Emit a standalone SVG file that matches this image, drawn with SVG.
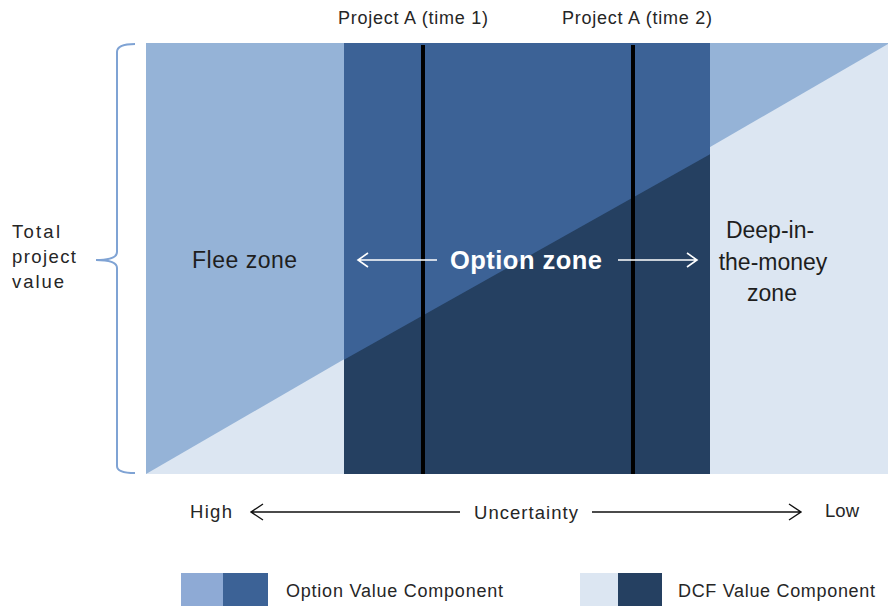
<svg xmlns="http://www.w3.org/2000/svg" width="888" height="606" viewBox="0 0 888 606">
<style>
.t{font-family:"Liberation Sans",Arial,sans-serif;fill:#262626}
.z{font-family:"Liberation Sans",Arial,sans-serif;fill:#1e1e1e;font-size:23px}
.wa{stroke:#ffffff;stroke-width:1.6;fill:none}
.ba{stroke:#111111;stroke-width:1.4;fill:none}
</style>
<rect width="888" height="606" fill="#ffffff"/>
<g id="chart">
<rect x="146" y="43" width="742" height="431" fill="#DCE6F2"/>
<polygon points="146,43 888,43 888,44 146,474" fill="#95B3D7"/>
<rect x="344" y="43" width="366" height="431" fill="#254061"/>
<polygon points="344,43 710,43 710,154.3 344,359.8" fill="#3C6296"/>
<rect x="421" y="45" width="4" height="429" fill="#000000"/>
<rect x="631" y="45" width="4" height="429" fill="#000000"/>
</g>
<g id="brace">
<path d="M135,44 Q117,44 117,52 L117,252 Q117,260 96,260 Q117,260 117,268 L117,466 Q117,473 135,473" fill="none" stroke="#7FA3D4" stroke-width="2"/>
</g>
<g id="labels">
<text class="t" x="338" y="24" font-size="18" textLength="150">Project A (time 1)</text>
<text class="t" x="562" y="24" font-size="18" textLength="150">Project A (time 2)</text>
<text class="t" x="12" y="238" font-size="18.5" textLength="48">Total</text>
<text class="t" x="12" y="263" font-size="18.5" textLength="64">project</text>
<text class="t" x="12" y="288" font-size="18.5" textLength="52">value</text>
<text class="z" x="192" y="268" textLength="105">Flee zone</text>
<text x="526" y="269" text-anchor="middle" font-family="Liberation Sans,Arial,sans-serif" font-weight="bold" font-size="25.5" fill="#ffffff" textLength="152">Option zone</text>
<text class="z" x="770" y="238" text-anchor="middle">Deep-in-</text>
<text class="z" x="773" y="270" text-anchor="middle">the-money</text>
<text class="z" x="772" y="301" text-anchor="middle">zone</text>
<text class="t" x="190" y="518" font-size="18.5" textLength="42">High</text>
<text class="t" x="474" y="519" font-size="18.5" textLength="104">Uncertainty</text>
<text class="t" x="825" y="517" font-size="18.5" textLength="34">Low</text>
</g>
<g id="connectors">
<path class="wa" d="M437,260 L358,260 M368,253 L358,260 L368,267"/>
<path class="wa" d="M618,260 L697,260 M687,253 L697,260 L687,267"/>
<path class="ba" d="M460,512 L251,512 M263,504 L251,512 L263,520"/>
<path class="ba" d="M592,512 L801,512 M789,504 L801,512 L789,520"/>
</g>
<g id="legend">
<rect x="181" y="573" width="42" height="33" fill="#8EAAD5"/>
<rect x="223" y="573" width="45" height="33" fill="#3C6296"/>
<text class="t" x="286" y="597" font-size="18" textLength="217">Option Value Component</text>
<rect x="580" y="573" width="38" height="33" fill="#DCE6F2"/>
<rect x="618" y="573" width="44" height="33" fill="#254061"/>
<text class="t" x="678" y="597" font-size="18" textLength="197">DCF Value Component</text>
</g>
</svg>
